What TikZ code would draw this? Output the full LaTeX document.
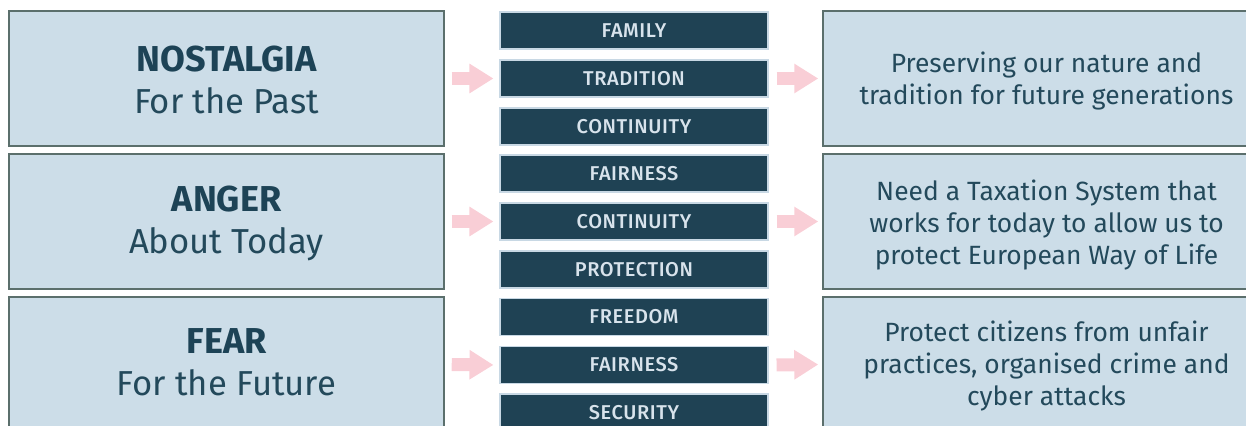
\documentclass[tikz,border=0pt]{standalone}
\usepackage{fontspec}
\setmainfont{Fira Sans}
\newfontfamily\medfont[LetterSpace=3]{Fira Sans Medium}
\usetikzlibrary{arrows.meta}
\definecolor{boxfill}{HTML}{CCDDE8}
\definecolor{boxline}{HTML}{5B6F6C}
\definecolor{darkbox}{HTML}{1F4254}
\definecolor{darkedge}{HTML}{C8D8E4}
\definecolor{titletext}{HTML}{1D4356}
\definecolor{bodytext}{HTML}{23495B}
\definecolor{midtext}{HTML}{D8E3EC}
\definecolor{arrowpink}{HTML}{F9CED6}
\tikzset{
  leftbox/.style={draw=boxline, fill=boxfill, line width=1.1pt, inner sep=0pt,
    minimum width=326.25pt, minimum height=101.25pt},
  rightbox/.style={draw=boxline, fill=boxfill, line width=1.1pt, inner sep=0pt,
    minimum width=335.25pt, minimum height=101.25pt},
  midbox/.style={draw=darkedge, fill=darkbox, line width=0.8pt, inner sep=0pt,
    minimum width=201pt, minimum height=27.75pt, text=midtext,
    font=\medfont\fontsize{15}{18}\selectfont},
  titlelbl/.style={anchor=base, inner sep=0pt, text=titletext,
    font=\bfseries\fontsize{27}{31}\selectfont},
  sublbl/.style={anchor=base, inner sep=0pt, text=bodytext,
    font=\fontsize{26}{31}\selectfont},
  bodylbl/.style={anchor=base, inner sep=0pt, text=bodytext,
    font=\fontsize{19.8}{24}\selectfont},
  parrow/.style={draw=arrowpink, line width=9.75pt,
    -{Triangle[length=18pt,width=21pt]}}
}
\begin{document}
\begin{tikzpicture}[x=0.75pt,y=-0.75pt]
\useasboundingbox (0,0) rectangle (1246,425);
\clip (0,0) rectangle (1246,425);
% left boxes
\node[leftbox] (L1) at (226.5,78.5) {};
\node[leftbox] (L2) at (226.5,221.5) {};
\node[leftbox] (L3) at (226.5,364.5) {};
\node[titlelbl] (L1a) at (226.5,71) {NOSTALGIA};
\node[sublbl] (L1b) at (226.5,113) {For the Past};
\node[titlelbl] (L2a) at (226.5,211) {ANGER};
\node[sublbl] (L2b) at (226.5,253) {About Today};
\node[titlelbl] (L3a) at (226.5,353) {FEAR};
\node[sublbl] (L3b) at (226.5,395) {For the Future};
% middle boxes
\node[midbox] (M1) at (634,30.5) {FAMILY};
\node[midbox] (M2) at (634,78.5) {TRADITION};
\node[midbox] (M3) at (634,126.5) {CONTINUITY};
\node[midbox] (M4) at (634,173.5) {FAIRNESS};
\node[midbox] (M5) at (634,221.5) {CONTINUITY};
\node[midbox] (M6) at (634,269.5) {PROTECTION};
\node[midbox] (M7) at (634,317) {FREEDOM};
\node[midbox] (M8) at (634,365) {FAIRNESS};
\node[midbox] (M9) at (634,412.5) {SECURITY};
% right boxes
\node[rightbox] (R1) at (1046.5,78.5) {};
\node[rightbox] (R2) at (1046.5,221.5) {};
\node[rightbox] (R3) at (1046.5,364.5) {};
\node[bodylbl] (R1a) at (1046.5,72) {Preserving our nature and};
\node[bodylbl] (R1b) at (1046.5,104) {tradition for future generations};
\node[bodylbl] (R2a) at (1046.5,200) {Need a Taxation System that};
\node[bodylbl] (R2b) at (1046.5,232) {works for today to allow us to};
\node[bodylbl] (R2c) at (1046.5,264) {protect European Way of Life};
\node[bodylbl] (R3a) at (1046.5,341) {Protect citizens from unfair};
\node[bodylbl] (R3b) at (1046.5,373) {practices, organised crime and};
\node[bodylbl] (R3c) at (1046.5,405) {cyber attacks};
% arrows
\draw[parrow, shorten <=5.25pt, shorten >=4.5pt] (L1.east) -- (M2.west);
\draw[parrow, shorten <=5.25pt, shorten >=4.5pt] (L2.east) -- (M5.west);
\draw[parrow, shorten <=5.25pt, shorten >=4.5pt] (L3.east) -- (M8.west);
\draw[parrow, shorten <=6pt, shorten >=3pt] (M2.east) -- (R1.west);
\draw[parrow, shorten <=6pt, shorten >=3pt] (M5.east) -- (R2.west);
\draw[parrow, shorten <=6pt, shorten >=3pt] (M8.east) -- (R3.west);
\end{tikzpicture}
\end{document}
